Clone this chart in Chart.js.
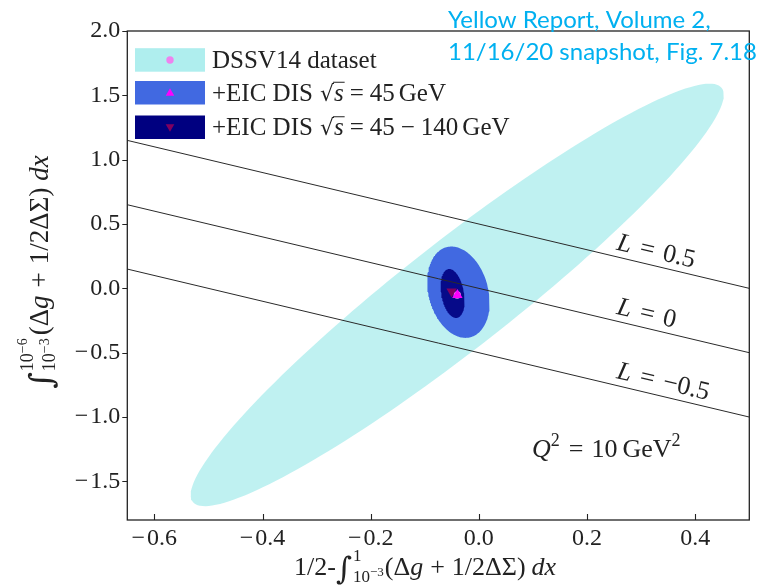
<!DOCTYPE html>
<html>
<head>
<meta charset="utf-8">
<script src="https://cdn.jsdelivr.net/npm/chart.js@4/dist/chart.umd.min.js"></script>
<style>
  html, body { margin: 0; padding: 0; background: #fff; }
  #wrap { width: 772px; height: 585px; position: relative; }
</style>
</head>
<body>
<div id="wrap"><canvas id="c" width="772" height="585"></canvas></div>
<script>
// ---- axes ----
const xRange = [-0.65, 0.5];
const yRange = [-1.8, 2.0];
const xTicks = [-0.6, -0.4, -0.2, 0.0, 0.2, 0.4];
const yTicks = [-1.5, -1.0, -0.5, 0.0, 0.5, 1.0, 1.5, 2.0];

// ---- uncertainty ellipses: centre + two half-axis vectors (data units) ----
const dssvCenter = [-0.040, -0.051];
const dssvAxisA = [0.489, 1.608];
const dssvAxisB = [0.0614, -0.3306];

const eic45Center = [-0.0378, -0.030];
const eic45AxisA = [-0.0223, 0.3497];
const eic45AxisB = [0.0532, 0.0598];

const eic140Center = [-0.0485, -0.0396];
const eic140AxisA = [-0.0080, 0.1897];
const eic140AxisB = [0.0207, 0.0154];

// ---- central values ----
const dssvPoint = [-0.040, -0.051];
const eic45Point = [-0.0397, -0.051];
const eic140Point = [-0.0504, -0.024];

// ---- lines of constant L (endpoints) ----
const lLabels = ['0.5', '0', '\u22120.5'];
const lineLp05 = [[-0.65, 1.15], [0.5, 0.0]];
const lineL0 = [[-0.65, 0.65], [0.5, -0.5]];
const lineLm05 = [[-0.65, 0.15], [0.5, -1.0]];
const lLabelStartX = 0.25;

const legendLabels = ['DSSV14 dataset', '+EIC DIS', '+EIC DIS'];
const legendEnergies = [null, ['45'], ['45', '140']];

const SERIF = '"Liberation Serif", "DejaVu Serif", serif';

function ellipsePoints(c, a, b, n) {
  const pts = [];
  for (let i = 0; i <= n; i++) {
    const t = 2 * Math.PI * i / n;
    pts.push({ x: c[0] + Math.cos(t) * a[0] + Math.sin(t) * b[0],
               y: c[1] + Math.cos(t) * a[1] + Math.sin(t) * b[1] });
  }
  return pts;
}
const toXY = arr => arr.map(p => ({ x: p[0], y: p[1] }));

function ellipseSet(c, a, b, color, order) {
  return {
    data: ellipsePoints(c, a, b, 180), showLine: true, fill: 'shape',
    backgroundColor: color, borderColor: color, borderWidth: 0,
    pointRadius: 0, tension: 0, order
  };
}
function lineSet(pts) {
  return {
    data: toXY(pts), showLine: true, fill: false, borderColor: '#2a2a2a',
    borderWidth: 1, pointRadius: 0, order: 3
  };
}

// ---- rich text helper (sub/superscripts, italics) ----
function fontOf(p, base) {
  return (p.it ? 'italic ' : '') + (p.size || base) + 'px ' + (p.fam || SERIF);
}
function measureParts(ctx, parts, base) {
  let w = 0;
  for (const p of parts) {
    if (p.sup || p.sub) {
      const a = p.sup ? measureParts(ctx, p.sup, base) : 0;
      const b = p.sub ? measureParts(ctx, p.sub, base) : 0;
      w += Math.max(a + (p.supDx || 0), b + (p.subDx || 0)) + (p.gap || 0);
    } else if (p.space) {
      w += p.space;
    } else {
      ctx.font = fontOf(p, base);
      w += ctx.measureText(p.t).width + (p.gap || 0);
    }
  }
  return w;
}
function drawParts(ctx, parts, x, y, base) {
  for (const p of parts) {
    if (p.sup || p.sub) {
      let a = 0, b = 0;
      if (p.sup) a = drawParts(ctx, p.sup, x + (p.supDx || 0), y + (p.supDy || 0), base) - x;
      if (p.sub) b = drawParts(ctx, p.sub, x + (p.subDx || 0), y + (p.subDy || 0), base) - x;
      x += Math.max(a, b) + (p.gap || 0);
    } else if (p.space) {
      x += p.space;
    } else {
      ctx.font = fontOf(p, base);
      ctx.fillText(p.t, x, y + (p.dy || 0));
      const w = ctx.measureText(p.t).width;
      if (p.over) {
        const s = p.size || base;
        ctx.save();
        ctx.lineWidth = 1;
        ctx.beginPath();
        ctx.moveTo(x - 1, y - s * p.over);
        ctx.lineTo(x + w + 1, y - s * p.over);
        ctx.strokeStyle = ctx.fillStyle;
        ctx.stroke();
        ctx.restore();
      }
      x += w + (p.gap || 0);
    }
  }
  return x;
}

const integralFam = '"DejaVu Serif", serif';
const yTitleParts = [
  { t: '\u222B', size: 32, fam: integralFam, dy: 4, gap: 1 },
  { sup: [{ t: '10', size: 18 }, { t: '\u22126', size: 14, dy: -6 }],
    sub: [{ t: '10', size: 18 }, { t: '\u22123', size: 14, dy: -6 }],
    supDy: -15, subDy: 7, gap: 3 },
  { t: '(\u0394' }, { t: 'g', it: true }, { space: 8 }, { t: '+' }, { space: 8 },
  { t: '1/2\u0394\u03A3)' }, { space: 7 }, { t: 'dx', it: true }
];
const xTitleParts = [
  { t: '1/2-' },
  { t: '\u222B', size: 31, fam: integralFam, dy: 4, gap: 1 },
  { sup: [{ t: '1', size: 17 }],
    sub: [{ t: '10', size: 17 }, { t: '\u22123', size: 13, dy: -6 }],
    supDy: -14, subDy: 7, gap: 1 },
  { t: '(\u0394' }, { t: 'g', it: true }, { space: 7 }, { t: '+' }, { space: 7 },
  { t: '1/2\u0394\u03A3)' }, { space: 6 }, { t: 'dx', it: true }
];

function sqrtParts(energy) {
  const parts = [
    { t: '+EIC DIS' }, { space: 7 },
    { t: '\u221A', fam: integralFam, size: 22 },
    { t: 's', it: true, over: 0.74 },
    { space: 6 }, { t: '=' }, { space: 6 }, { t: energy[0] }
  ];
  if (energy.length > 1) {
    parts.push({ space: 6 }, { t: '\u2212' }, { space: 6 }, { t: energy[1] });
  }
  parts.push({ space: 4 }, { t: 'GeV' });
  return parts;
}

const decorPlugin = {
  id: 'decor',
  afterDraw(chart) {
    const { ctx, chartArea: ca, scales: { x, y } } = chart;
    ctx.save();
    ctx.fillStyle = '#222';
    ctx.strokeStyle = '#222';

    // frame
    ctx.lineWidth = 1.3;
    ctx.strokeRect(ca.left, ca.top, ca.right - ca.left, ca.bottom - ca.top);
    // ticks: x inside, y outside
    ctx.lineWidth = 1.1;
    ctx.beginPath();
    xTicks.forEach(v => {
      const px = Math.round(x.getPixelForValue(v)) + 0.5;
      ctx.moveTo(px, ca.bottom); ctx.lineTo(px, ca.bottom - 6);
    });
    yTicks.forEach(v => {
      const py = Math.round(y.getPixelForValue(v)) + 0.5;
      ctx.moveTo(ca.left - 5, py); ctx.lineTo(ca.left, py);
    });
    ctx.stroke();

    ctx.textBaseline = 'alphabetic';
    ctx.textAlign = 'left';

    // axis titles
    let w = measureParts(ctx, xTitleParts, 26);
    drawParts(ctx, xTitleParts, 425 - w / 2, 575, 26);

    ctx.save();
    ctx.translate(48, 272);
    ctx.rotate(-Math.PI / 2);
    w = measureParts(ctx, yTitleParts, 27);
    drawParts(ctx, yTitleParts, -w / 2, 0, 27);
    ctx.restore();

    // L labels along the lines
    [lineLp05, lineL0, lineLm05].forEach((ln, i) => {
      const x0 = x.getPixelForValue(ln[0][0]), y0 = y.getPixelForValue(ln[0][1]);
      const x1 = x.getPixelForValue(ln[1][0]), y1 = y.getPixelForValue(ln[1][1]);
      const ang = Math.atan2(y1 - y0, x1 - x0);
      const yv = ln[0][1] + (ln[1][1] - ln[0][1]) * (lLabelStartX - ln[0][0]) / (ln[1][0] - ln[0][0]);
      ctx.save();
      ctx.translate(x.getPixelForValue(lLabelStartX), y.getPixelForValue(yv));
      ctx.rotate(ang);
      drawParts(ctx, [{ t: 'L', it: true }, { space: 9 }, { t: '=' }, { space: 9 }, { t: lLabels[i] }], 0, -7, 26);
      ctx.restore();
    });

    // Q^2 annotation
    drawParts(ctx, [
      { t: 'Q', it: true }, { sup: [{ t: '2', size: 18 }], supDy: -11, gap: 1 },
      { space: 8 }, { t: '=' }, { space: 8 }, { t: '10' }, { space: 5 }, { t: 'GeV' },
      { sup: [{ t: '2', size: 18 }], supDy: -11 }
    ], 532, 457, 26);

    // legend
    const boxL = 135, boxW = 70, boxH = 23.5;
    const rows = [
      { top: 48.2, color: '#afeeee', marker: 'circle', mcolor: '#ee82ee' },
      { top: 81.0, color: '#4169e1', marker: 'up', mcolor: '#ff00ff' },
      { top: 115.5, color: '#000080', marker: 'down', mcolor: '#800060' }
    ];
    rows.forEach((r, i) => {
      ctx.fillStyle = r.color;
      ctx.fillRect(boxL, r.top, boxW, boxH);
      const cx = boxL + boxW / 2, cy = r.top + boxH / 2;
      ctx.fillStyle = r.mcolor;
      ctx.beginPath();
      if (r.marker === 'circle') {
        ctx.arc(cx, cy, 3.7, 0, 2 * Math.PI);
      } else if (r.marker === 'up') {
        ctx.moveTo(cx, cy - 4.5); ctx.lineTo(cx + 4.3, cy + 3); ctx.lineTo(cx - 4.3, cy + 3);
      } else {
        ctx.moveTo(cx, cy + 4.5); ctx.lineTo(cx + 4.3, cy - 3); ctx.lineTo(cx - 4.3, cy - 3);
      }
      ctx.closePath();
      ctx.fill();
      ctx.fillStyle = '#222';
      const parts = legendEnergies[i] === null ? [{ t: legendLabels[i] }] : sqrtParts(legendEnergies[i]);
      drawParts(ctx, parts, 212, cy + 8, 25);
    });

    // header note
    ctx.fillStyle = '#00b0f0';
    ctx.font = '24px Lato, "Open Sans", sans-serif';
    ctx.fillText('Yellow Report, Volume 2,', 448, 28);
    ctx.fillText('11/16/20 snapshot, Fig. 7.18', 448, 60);
    ctx.restore();
  }
};

const fmt = v => (v < 0 ? '\u2212\u200A' : '') + Math.abs(v).toFixed(1);

new Chart(document.getElementById('c'), {
  type: 'scatter',
  data: {
    datasets: [
      { data: toXY([eic140Point]), pointStyle: 'triangle', rotation: 180, pointRadius: 6,
        backgroundColor: '#800060', borderWidth: 0, order: 1 },
      { data: toXY([eic45Point]), pointStyle: 'triangle', pointRadius: 6,
        backgroundColor: '#ff00ff', borderWidth: 0, order: 0 },
      { data: toXY([dssvPoint]), pointStyle: 'circle', pointRadius: 3.7,
        backgroundColor: '#ee82ee', borderWidth: 0, order: 2 },
      lineSet(lineLp05), lineSet(lineL0), lineSet(lineLm05),
      ellipseSet(eic140Center, eic140AxisA, eic140AxisB, 'rgba(0,0,128,0.9)', 4),
      ellipseSet(eic45Center, eic45AxisA, eic45AxisB, '#4169e1', 5),
      ellipseSet(dssvCenter, dssvAxisA, dssvAxisB, 'rgba(175,238,238,0.8)', 6)
    ]
  },
  options: {
    responsive: false,
    animation: false,
    events: [],
    layout: { padding: { left: 0, right: 22.7, top: 31, bottom: 0 } },
    plugins: { legend: { display: false }, tooltip: { enabled: false } },
    scales: {
      x: {
        type: 'linear', min: xRange[0], max: xRange[1],
        afterBuildTicks: s => { s.ticks = xTicks.map(v => ({ value: v })); },
        afterFit: s => { s.height = 65; },
        grid: { display: false, drawTicks: false }, border: { display: false },
        ticks: { font: { family: SERIF, size: 24 }, color: '#222', padding: 4,
                 maxRotation: 0, autoSkip: false, callback: fmt }
      },
      y: {
        type: 'linear', min: yRange[0], max: yRange[1],
        afterBuildTicks: s => { s.ticks = yTicks.map(v => ({ value: v })); },
        afterFit: s => { s.width = 127.3; },
        grid: { display: false, drawTicks: false }, border: { display: false },
        ticks: { font: { family: SERIF, size: 24 }, color: '#222', padding: 7,
                 autoSkip: false, callback: fmt }
      }
    }
  },
  plugins: [decorPlugin]
});
</script>
</body>
</html>
